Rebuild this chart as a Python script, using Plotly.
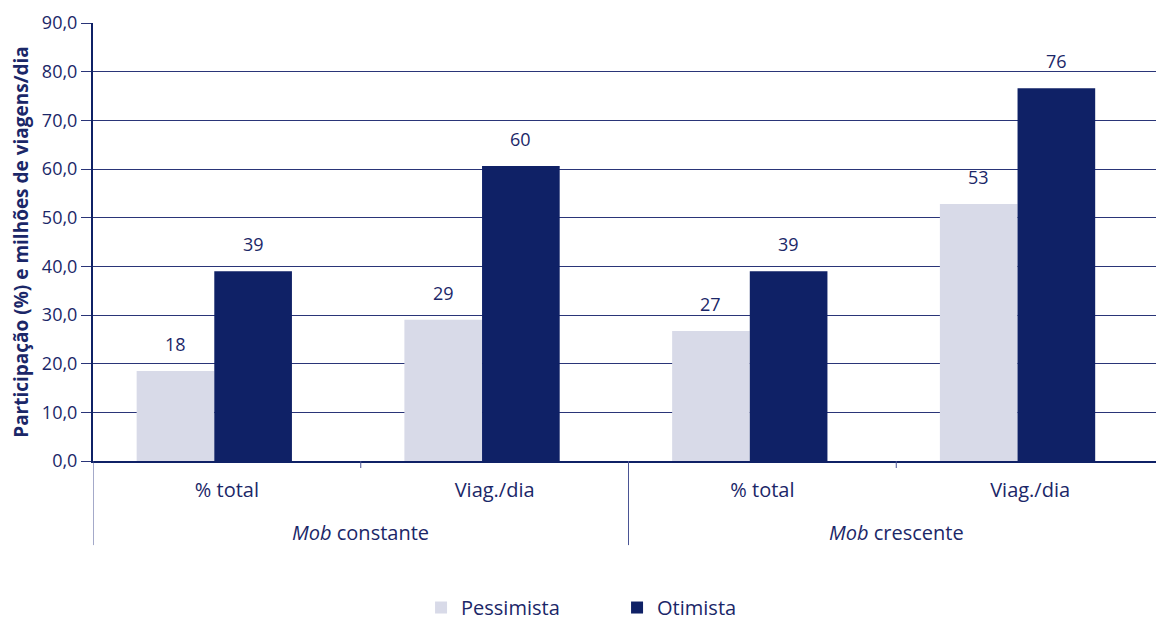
import plotly.graph_objects as go

groups = ["<i>Mob</i> constante", "<i>Mob</i> constante", "<i>Mob</i> crescente", "<i>Mob</i> crescente"]
subcats = ["% total", "Viag./dia", "% total", "Viag./dia"]
pessimista = [18.5, 29.0, 26.7, 52.8]
otimista = [39.0, 60.6, 39.0, 76.6]
pess_labels = ["18", "29", "27", "53"]
otim_labels = ["39", "60", "39", "76"]
y_ticks = [0, 10, 20, 30, 40, 50, 60, 70, 80, 90]

NAVY = "#0f2166"
LIGHT = "#d8dae8"
TXT = "#1b2768"
FONT = "Open Sans"

xpos = list(range(len(subcats)))
W = 0.29
OFF_P = -0.337
OFF_O = -0.047

fig = go.Figure()
fig.add_trace(go.Bar(name="Pessimista", x=xpos, y=pessimista, marker=dict(color=LIGHT, line=dict(width=0)),
                     width=W, offset=OFF_P))
fig.add_trace(go.Bar(name="Otimista", x=xpos, y=otimista, marker=dict(color=NAVY, line=dict(width=0)),
                     width=W, offset=OFF_O))

ann = []
for xi, v, t in zip(xpos, pessimista, pess_labels):
    ann.append(dict(x=xi + OFF_P + W / 2, y=v, xref="x", yref="y", text=t, showarrow=False,
                    yanchor="middle", yshift=27, font=dict(size=18, color=TXT, family=FONT)))
for xi, v, t in zip(xpos, otimista, otim_labels):
    ann.append(dict(x=xi + OFF_O + W / 2, y=v, xref="x", yref="y", text=t, showarrow=False,
                    yanchor="middle", yshift=27, font=dict(size=18, color=TXT, family=FONT)))

# group labels
seen = []
for g in groups:
    if g not in seen:
        seen.append(g)
for g in seen:
    idx = [i for i, gg in enumerate(groups) if gg == g]
    ann.append(dict(x=sum(xpos[i] for i in idx) / len(idx), y=-0.164, xref="x", yref="paper", text=g,
                    showarrow=False, yanchor="middle", font=dict(size=20, color=TXT, family=FONT)))

shapes = []
for b in [-0.5, 1.5, 3.5]:
    shapes.append(dict(type="line", xref="x", yref="paper", x0=b, x1=b, y0=0, y1=-0.192,
                       line=dict(color="#4a5494", width=1)))
for b in [0.5, 2.5]:
    shapes.append(dict(type="line", xref="x", yref="paper", x0=b, x1=b, y0=0, y1=-0.016,
                       line=dict(color="#4a5494", width=1)))

fig.update_layout(
    width=1164, height=619,
    margin=dict(l=85, r=8, t=15, b=166, autoexpand=False),
    plot_bgcolor="white", paper_bgcolor="white",
    font=dict(family=FONT, color=TXT, size=18),
    separators=",.",
    showlegend=True,
    legend=dict(orientation="h", x=0.3063, xanchor="left", y=-0.29, yanchor="top",
                font=dict(size=20, color=TXT, family=FONT), entrywidth=151),
    annotations=ann, shapes=shapes,
)
fig.update_yaxes(range=[0, 90], tickvals=y_ticks, tickformat=".1f", showgrid=True, gridcolor="#2a3578",
                 gridwidth=1, showline=True, linecolor=NAVY, linewidth=2, ticks="outside", ticklen=10,
                 tickcolor="#2a3578", zeroline=False, automargin=False,
                 title=dict(text="<b>Participação (%) e milhões de viagens/dia</b>", standoff=22,
                            font=dict(size=19, color=TXT, family=FONT)),
                 tickfont=dict(size=18, color=TXT, family=FONT))
fig.update_xaxes(range=[-0.5, 3.5], tickvals=xpos, ticktext=subcats, showline=True, linecolor=NAVY,
                 linewidth=2, ticks="outside", ticklen=10, tickcolor="rgba(0,0,0,0)", showgrid=False,
                 zeroline=False, automargin=False,
                 tickfont=dict(size=20, color=TXT, family=FONT))

fig.write_html("out.html")
